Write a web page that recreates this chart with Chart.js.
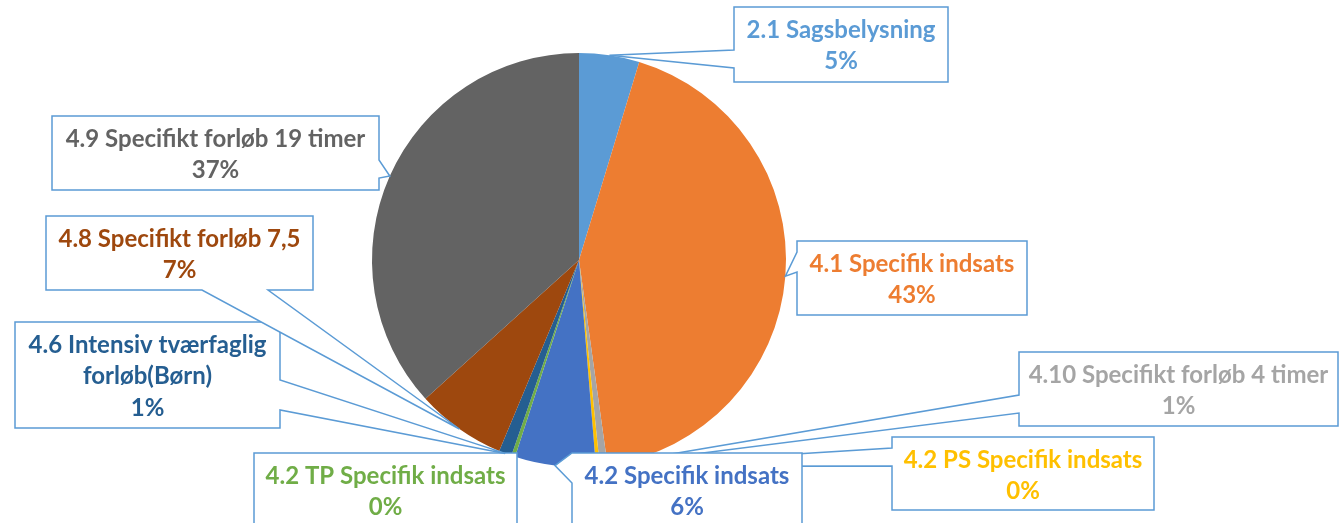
<!DOCTYPE html>
<html>
<head>
<meta charset="utf-8">
<script src="https://cdn.jsdelivr.net/npm/chart.js@4.4.1/dist/chart.umd.min.js"></script>
<style>
    body { margin: 0; background: #ffffff; }
    #wrap { width: 1339px; height: 523px; }
</style>
</head>
<body>
<div id="wrap"><canvas id="grafico" width="1339" height="523"></canvas></div>
<script>
// Kategorier og andele (procent)
const categories = [
    '2.1 Sagsbelysning',
    '4.1 Specifik indsats',
    '4.10 Specifikt forløb 4 timer',
    '4.2 PS Specifik indsats',
    '4.2 Specifik indsats',
    '4.2 TP Specifik indsats',
    '4.6 Intensiv tværfaglig forløb(Børn)',
    '4.8 Specifikt forløb 7,5',
    '4.9 Specifikt forløb 19 timer'
];
const shares = [4.7, 43.1, 0.6, 0.3, 6.3, 0.3, 1.0, 7.0, 36.7];
const sliceColors = ['#5B9BD5', '#ED7D31', '#A5A5A5', '#FFC000', '#4472C4', '#70AD47', '#255E91', '#9E480E', '#636363'];
// linjeskift i etiketterne
const labelLines = [
    ['2.1 Sagsbelysning'],
    ['4.1 Specifik indsats'],
    ['4.10 Specifikt forløb 4 timer'],
    ['4.2 PS Specifik indsats'],
    ['4.2 Specifik indsats'],
    ['4.2 TP Specifik indsats'],
    ['4.6 Intensiv tværfaglig', 'forløb(Børn)'],
    ['4.8 Specifikt forløb 7,5'],
    ['4.9 Specifikt forløb 19 timer']
];

// Placering af etiketbokse (x, y, w, h) og hvor kilen går ud fra boksen
const calloutBoxes = [
    { x: 734, y: 7, w: 214, h: 75, side: 'left', a: 50, b: 68 },
    { x: 797, y: 241, w: 230, h: 74, side: 'left', a: 252, b: 272 },
    { x: 1019, y: 352, w: 319, h: 74, side: 'left', a: 395, b: 413 },
    { x: 892, y: 437, w: 262, h: 73, side: 'left', a: 448, b: 466 },
    { x: 572, y: 453, w: 230, h: 90, side: 'left', a: 453, b: 483 },
    { x: 254, y: 453, w: 263, h: 90, side: null },
    { x: 15, y: 322, w: 265, h: 106, side: 'right', a: 380, b: 410 },
    { x: 46, y: 216, w: 267, h: 74, side: 'bottom', a: 202, b: 268 },
    { x: 52, y: 116, w: 327, h: 74, side: 'right', a: 160, b: 178 }
];

const total = shares.reduce((s, v) => s + v, 0);

// Tegner kasser med kile ud til hvert udsnit
const calloutPlugin = {
    id: 'callouts',
    afterDatasetsDraw(chart) {
        const ctx = chart.ctx;
        const arcs = chart.getDatasetMeta(0).data;
        ctx.save();
        ctx.lineWidth = 1.5;
        ctx.strokeStyle = '#5B9BD5';
        ctx.lineJoin = 'miter';

        arcs.forEach((arc, i) => {
            const box = calloutBoxes[i];
            const mid = (arc.startAngle + arc.endAngle) / 2;
            const tip = {
                x: arc.x + Math.cos(mid) * arc.outerRadius,
                y: arc.y + Math.sin(mid) * arc.outerRadius
            };
            const x0 = box.x, y0 = box.y, x1 = box.x + box.w, y1 = box.y + box.h;

            ctx.beginPath();
            if (box.side === 'left') {
                ctx.moveTo(x0, y0);
                ctx.lineTo(x1, y0);
                ctx.lineTo(x1, y1);
                ctx.lineTo(x0, y1);
                ctx.lineTo(x0, box.b);
                ctx.lineTo(tip.x, tip.y);
                ctx.lineTo(x0, box.a);
            } else if (box.side === 'right') {
                ctx.moveTo(x0, y0);
                ctx.lineTo(x1, y0);
                ctx.lineTo(x1, box.a);
                ctx.lineTo(tip.x, tip.y);
                ctx.lineTo(x1, box.b);
                ctx.lineTo(x1, y1);
                ctx.lineTo(x0, y1);
            } else if (box.side === 'bottom') {
                ctx.moveTo(x0, y0);
                ctx.lineTo(x1, y0);
                ctx.lineTo(x1, y1);
                ctx.lineTo(box.b, y1);
                ctx.lineTo(tip.x, tip.y);
                ctx.lineTo(box.a, y1);
                ctx.lineTo(x0, y1);
            } else {
                ctx.rect(x0, y0, box.w, box.h);
            }
            ctx.closePath();
            ctx.fillStyle = '#ffffff';
            ctx.fill();
            ctx.stroke();

            // tekst
            const lines = labelLines[i].concat([Math.round(shares[i] / total * 100) + '%']);
            ctx.fillStyle = sliceColors[i];
            ctx.font = 'bold 24px Lato, "Open Sans", sans-serif';
            ctx.textAlign = 'center';
            ctx.textBaseline = 'middle';
            const cx = x0 + box.w / 2;
            lines.forEach((txt, k) => {
                ctx.fillText(txt, cx, y0 + 23 + k * 31.5);
            });
        });
        ctx.restore();
    }
};

new Chart(document.getElementById('grafico').getContext('2d'), {
    type: 'pie',
    data: {
        labels: categories,
        datasets: [{
            data: shares,
            backgroundColor: sliceColors,
            borderWidth: 0
        }]
    },
    options: {
        responsive: false,
        animation: false,
        layout: {
            padding: { left: 372, right: 553, top: 53, bottom: 56 }
        },
        plugins: {
            legend: { display: false },
            tooltip: { enabled: false }
        }
    },
    plugins: [calloutPlugin]
});
</script>
</body>
</html>
